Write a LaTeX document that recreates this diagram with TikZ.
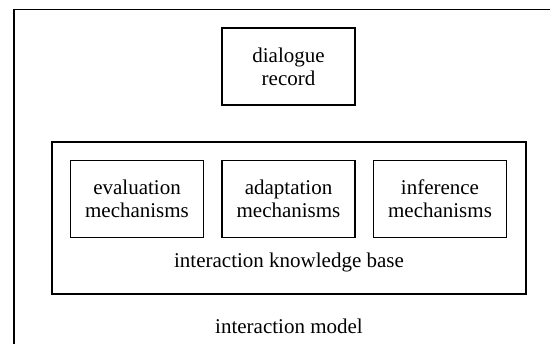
\documentclass[tikz,border=0pt]{standalone}
\usepackage{fontspec}
\setmainfont{Liberation Serif}
\begin{document}
\begin{tikzpicture}[x=1pt,y=-1pt,
  frame/.style={draw,line width=1.8pt},
  box/.style={frame,minimum width=133pt,minimum height=77pt,inner sep=0pt,align=center,font=\fontsize{21}{23}\selectfont},
  lbl/.style={inner sep=0pt,font=\fontsize{21}{23}\selectfont}]
\useasboundingbox (0,0) rectangle (550,344);
\clip (0,0) rectangle (550,344);
\draw[frame] (14,9.5) rectangle (570,370);
\node[box] (dlg) at (288.5,66.5) {dialogue\\record};
\draw[frame] (52,142) rectangle (526,294);
\node[box] (eval) at (137,199) {evaluation\\mechanisms};
\node[box] (adapt) at (288.5,199) {adaptation\\mechanisms};
\node[box] (infer) at (440,199) {inference\\mechanisms};
\node[lbl] (kb) at (289,262) {interaction knowledge base};
\node[lbl] (model) at (289,326) {interaction model};
\end{tikzpicture}
\end{document}
